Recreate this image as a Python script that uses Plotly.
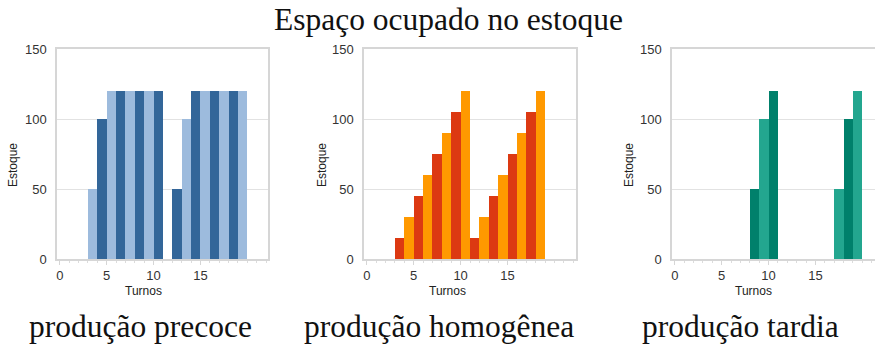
import plotly.graph_objects as go

# ---- data ----
turns = list(range(1, 21))
precoce = [0, 0, 0, 50, 100, 120, 120, 120, 120, 120, 120, 0, 50, 100, 120, 120, 120, 120, 120, 120]
homogenea = [0, 0, 0, 15, 30, 45, 60, 75, 90, 105, 120, 15, 30, 45, 60, 75, 90, 105, 120, 0]
tardia = [0, 0, 0, 0, 0, 0, 0, 0, 50, 100, 120, 0, 0, 0, 0, 0, 0, 50, 100, 120]
x_ticks = [0, 5, 10, 15]
y_ticks = [0, 50, 100, 150]
panel_titles = ["produção precoce", "produção homogênea", "produção tardia"]
main_title = "Espaço ocupado no estoque"
x_title = "Turnos"
y_title = "Estoque"

# ---- styling ----
W, H = 875, 344
palettes = [("#9dbbdd", "#336699"), ("#dc3912", "#ff9900"), ("#23a68f", "#00806b")]
series = [precoce, homogenea, tardia]
# pixel geometry of plot areas
x_px = [(57, 268), (364, 576), (672, 875)]
x_ranges = [[-0.3, 22.2], [-0.3, 22.3], [-0.3, 21.35]]
y_dom = [(344 - 259) / H, (344 - 49) / H]
serif = "Liberation Serif, Times New Roman, serif"
serif_size = 31.5
sans = "Liberation Sans, Arial, sans-serif"
grid = "#e2e2e2"

fig = go.Figure()
annotations = []
for i, (vals, (c_even, c_odd)) in enumerate(zip(series, palettes)):
    ax = "" if i == 0 else str(i + 1)
    colors = [c_even if t % 2 == 0 else c_odd for t in turns]
    fig.add_trace(go.Bar(
        x=turns, y=vals, width=1, offset=-1,
        marker=dict(color=colors, line=dict(width=0)),
        xaxis="x" + ax, yaxis="y" + ax, showlegend=False,
    ))
    x0, x1 = x_px[i]
    fig.update_layout(**{
        "xaxis" + ax: dict(
            domain=[x0 / W, x1 / W], range=x_ranges[i], anchor="y" + ax,
            automargin=False,
            tickvals=x_ticks, showgrid=False, zeroline=False,
            showline=True, linecolor="#d6d6d6", linewidth=1.5, mirror=True,
            ticks="outside", ticklen=4, tickcolor="#d6d6d6",
            minor=dict(dtick=1, ticks="outside", ticklen=2, tickcolor="#dcdcdc"),
            tickfont=dict(family=sans, size=13, color="#333333"),
        ),
        "yaxis" + ax: dict(
            domain=y_dom, range=[0, 150], anchor="x" + ax,
            automargin=False,
            tickvals=y_ticks, showgrid=True, gridcolor=grid, gridwidth=1,
            zeroline=False, showline=True, linecolor="#d6d6d6", linewidth=1.5,
            mirror=True, ticks="", ticklabelstandoff=6,
            tickfont=dict(family=sans, size=13, color="#333333"),
        ),
    })
    # axis titles
    ytitle_x = [13, 322, 629][i]
    xtitle_x = [143, 447, 753][i]
    annotations.append(dict(text=y_title, x=ytitle_x / W, y=(344 - 165) / H,
                            xref="paper", yref="paper", showarrow=False, textangle=-90,
                            xanchor="center", yanchor="middle",
                            font=dict(family=sans, size=12, color="#222222")))
    annotations.append(dict(text=x_title, x=xtitle_x / W, y=(344 - 291) / H,
                            xref="paper", yref="paper", showarrow=False,
                            xanchor="center", yanchor="middle",
                            font=dict(family=sans, size=12, color="#222222")))
    sub_x = [140, 439, 740][i]
    annotations.append(dict(text=panel_titles[i], x=sub_x / W, y=(344 - 326) / H,
                            xref="paper", yref="paper", showarrow=False,
                            xanchor="center", yanchor="middle",
                            font=dict(family=serif, size=serif_size, color="#111111")))

annotations.append(dict(text=main_title, x=448 / W, y=(344 - 20) / H,
                        xref="paper", yref="paper", showarrow=False,
                        xanchor="center", yanchor="middle",
                        font=dict(family=serif, size=serif_size, color="#111111")))

fig.update_layout(
    template="none",
    width=W, height=H, autosize=False,
    margin=dict(l=0, r=0, t=0, b=0, pad=0),
    paper_bgcolor="white", plot_bgcolor="white",
    bargap=0, annotations=annotations, showlegend=False,
)

fig.write_html(
    "out.html",
    config={"displayModeBar": False},
    post_script="document.body.style.margin='0';document.body.style.overflow='hidden';",
)
